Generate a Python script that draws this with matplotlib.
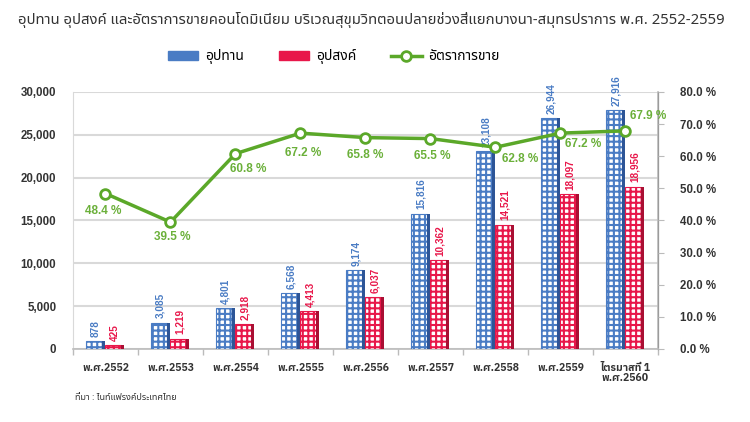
import matplotlib
matplotlib.use("Agg")
import matplotlib.pyplot as plt
import numpy as np
from matplotlib.patches import Patch
from matplotlib.lines import Line2D

plt.rcParams['font.family'] = ['Noto Sans Thai', 'Liberation Sans', 'DejaVu Sans']
plt.rcParams['hatch.linewidth'] = 1.5

categories = ["พ.ศ.2552", "พ.ศ.2553", "พ.ศ.2554", "พ.ศ.2555", "พ.ศ.2556",
              "พ.ศ.2557", "พ.ศ.2558", "พ.ศ.2559", "ไตรมาสที่ 1\nพ.ศ.2560"]
supply = [878, 3085, 4801, 6568, 9174, 15816, 23108, 26944, 27916]
demand = [425, 1219, 2918, 4413, 6037, 10362, 14521, 18097, 18956]
sales_rate = [48.4, 39.5, 60.8, 67.2, 65.8, 65.5, 62.8, 67.2, 67.9]
left_ticks = [0, 5000, 10000, 15000, 20000, 25000, 30000]
right_ticks = [0, 10, 20, 30, 40, 50, 60, 70, 80]

title = "อุปทาน อุปสงค์ และอัตราการขายคอนโดมิเนียม บริเวณสุขุมวิทตอนปลายช่วงสี่แยกบางนา-สมุทรปราการ พ.ศ. 2552-2559"
source = "ที่มา : ไนท์แฟรงค์ประเทศไทย"
legend_labels = ["อุปทาน", "อุปสงค์", "อัตราการขาย"]

BLUE = "#4a7cc4"
BLUE_D = "#2d5597"
RED = "#e8174a"
RED_D = "#a90f33"
GREEN = "#5ba829"
GREEN_T = "#6bb03a"
TXT = "#333333"
GRID = "#d9d9d9"
BOLD_THAI = ['IBM Plex Sans Thai', 'Liberation Sans', 'DejaVu Sans']

fig = plt.figure(figsize=(7.5, 4.22), dpi=100)
ax = fig.add_axes([0.0973, 0.173, 0.78, 0.609])
ax2 = ax.twinx()

x = np.arange(len(categories))
w = 0.25
side = 0.045

# supply bars
ax.bar(x - 0.15 - side / 2, supply, width=w, color="white", edgecolor=BLUE,
       hatch="+++", linewidth=0.8, zorder=3)
ax.bar(x - 0.15 + w / 2, supply, width=side, color=BLUE_D, linewidth=0, zorder=3)
# demand bars
ax.bar(x + 0.14 - side / 2, demand, width=w, color="white", edgecolor=RED,
       hatch="+++", linewidth=0.8, zorder=3)
ax.bar(x + 0.14 + w / 2, demand, width=side, color=RED_D, linewidth=0, zorder=3)

for xi, s, d in zip(x, supply, demand):
    ax.annotate(f"{s:,}", (xi - 0.15, s), xytext=(0, 3), textcoords="offset points",
                rotation=90, ha="center", va="bottom", fontsize=7.2, color=BLUE,
                fontweight="bold", family=['Liberation Sans'])
    ax.annotate(f"{d:,}", (xi + 0.15, d), xytext=(0, 3), textcoords="offset points",
                rotation=90, ha="center", va="bottom", fontsize=7.2, color=RED,
                fontweight="bold", family=['Liberation Sans'])

ax.set_xlim(-0.5, len(categories) - 0.5)
ax.set_ylim(0, 30000)
ax.set_yticks(left_ticks)
ax.set_yticklabels([f"{v:,}" for v in left_ticks], fontsize=8.3, fontweight="bold",
                   color=TXT, family=['Liberation Sans'])
ax.yaxis.grid(True, color=GRID, linewidth=1.5, zorder=0)
ax.set_axisbelow(True)
ax.tick_params(axis="y", length=0, pad=12)

ax.set_xticks(x)
ax.set_xticklabels(categories, fontsize=7.5, fontweight="bold", color=TXT,
                   linespacing=1.0, family=BOLD_THAI)
ax.set_xticks(np.arange(-0.5, len(categories) - 0.4, 1), minor=True)
ax.tick_params(axis="x", which="major", length=0, pad=10)
ax.tick_params(axis="x", which="minor", length=4, color="#bbbbbb", width=1)

for sp in ["top"]:
    ax.spines[sp].set_visible(False)
    ax2.spines[sp].set_visible(False)
ax.spines["left"].set_color(GRID)
ax.spines["bottom"].set_color("#bbbbbb")
ax.spines["bottom"].set_linewidth(1.2)
ax2.spines["left"].set_visible(False)
ax2.spines["bottom"].set_visible(False)
ax2.spines["right"].set_color("#bbbbbb")
ax2.spines["right"].set_linewidth(1.2)

# sales rate line
ax2.plot(x, sales_rate, color=GREEN, linewidth=2.5, marker="o", markersize=7,
         markerfacecolor="white", markeredgecolor=GREEN, markeredgewidth=2, zorder=5)
ax2.set_ylim(0, 80)
ax2.set_yticks(right_ticks)
ax2.set_yticklabels([f"{v:.1f} %" for v in right_ticks], fontsize=8.3,
                    fontweight="bold", color=TXT, family=['Liberation Sans'])
ax2.tick_params(axis="y", length=4, color="#bbbbbb", pad=12)

offsets_px = [(-2, -17), (2, -15), (13, -15), (3, -20), (0, -17), (2, -17),
              (25, -12), (23, -11), (23, 15)]
for xi, r, (dx, dy) in zip(x, sales_rate, offsets_px):
    ax2.annotate(f"{r:.1f} %", (xi, r), xytext=(dx * 0.72, dy * 0.72),
                 textcoords="offset points", ha="center", va="center",
                 fontsize=8.5, fontweight="bold", color=GREEN_T,
                 family=['Liberation Sans'], zorder=6)

fig.text(0.024, 0.953, title, fontsize=10.7, color=TXT, ha="left", va="center")

handles = [Patch(facecolor=BLUE, edgecolor=BLUE),
           Patch(facecolor=RED, edgecolor=RED),
           Line2D([0], [0], color=GREEN, linewidth=2.5, marker="o", markersize=7,
                  markerfacecolor="white", markeredgecolor=GREEN, markeredgewidth=2)]
fig.legend(handles, legend_labels, loc="center", bbox_to_anchor=(0.445, 0.865),
           ncol=3, frameon=False, fontsize=10, handlelength=2.2, handleheight=0.7,
           columnspacing=2.5, handletextpad=0.5)

fig.text(0.1, 0.057, source, fontsize=6.5, color=TXT, ha="left", va="center")

fig.savefig("out.png", dpi=100)
